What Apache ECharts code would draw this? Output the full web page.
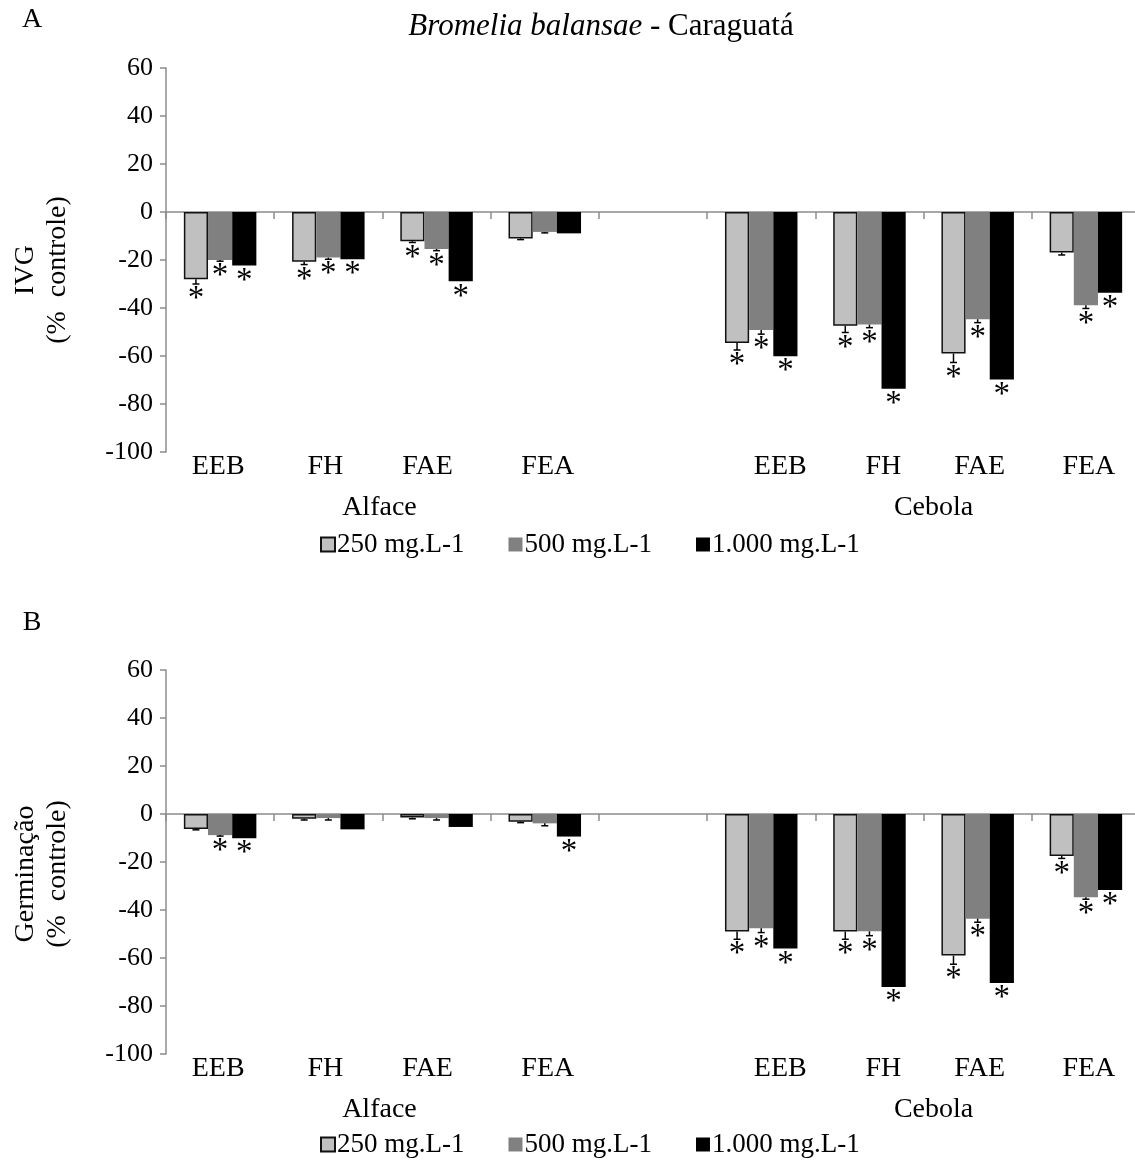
<!DOCTYPE html>
<html><head><meta charset="utf-8">
<script src="https://cdn.jsdelivr.net/npm/echarts@6/dist/echarts.min.js"></script>
<style>html,body{margin:0;padding:0;background:#fff}#c{width:1135px;height:1162px}</style>
</head><body><div id="c"></div>
<script>
// ---------- DATA ----------
const treatments = ['EEB', 'FH', 'FAE', 'FEA'];
const groups = ['Alface', 'Cebola'];
const categories = [...treatments, '', ...treatments];
const doses = ['250 mg.L-1', '500 mg.L-1', '1.000 mg.L-1'];
const yTickValues = [-100, -80, -60, -40, -20, 0, 20, 40, 60];
const titleMain = 'Bromelia balansae';
const titleSub = ' - Caraguatá';
const panelLetters = ['A', 'B'];
const yNames = ['IVG', 'Germinação'];
const yNameSub = '(%  controle)';

// Panel A: IVG (% controle)
const ivg250 = [-28.0, -20.7, -12.2, -11.0, null, -54.6, -47.4, -59.0, -16.9];
const ivg500 = [-20.0, -19.0, -15.4, -8.3, null, -49.2, -46.9, -44.7, -38.9];
const ivg1000 = [-22.3, -19.7, -28.9, -8.9, null, -60.1, -73.6, -69.8, -33.6];
const ivgErr250 = [2.0, 1.2, 0.5, 0.5, null, 2.9, 2.8, 3.7, 1.0];
const ivgErr500 = [0.5, 0.7, 0.7, 0.4, null, 1.7, 1.3, 1.4, 1.3];
const ivgErr1000 = [0, 0, 0, 0, null, 0, 0, 0, 0];
const ivgSig250 = [1, 1, 1, 0, 0, 1, 1, 1, 0];
const ivgSig500 = [1, 1, 1, 0, 0, 1, 1, 1, 1];
const ivgSig1000 = [1, 1, 1, 0, 0, 1, 1, 1, 1];

// Panel B: Germinação (% controle)
const ger250 = [-6.2, -2.0, -1.5, -3.2, null, -49.0, -49.0, -59.0, -17.5];
const ger500 = [-8.8, -1.7, -1.7, -3.9, null, -47.6, -48.9, -43.6, -34.7];
const ger1000 = [-10.1, -6.4, -5.4, -9.4, null, -56.0, -72.1, -70.4, -31.7];
const gerErr250 = [0.4, 0.5, 0.5, 0.4, null, 3.2, 3.2, 3.6, 1.0];
const gerErr500 = [0.4, 0.8, 0.8, 1.0, null, 1.8, 1.8, 1.5, 0.8];
const gerErr1000 = [0, 0, 0, 0, null, 0, 0, 0, 0];
const gerSig250 = [0, 0, 0, 0, 0, 1, 1, 1, 1];
const gerSig500 = [1, 0, 0, 0, 0, 1, 1, 1, 1];
const gerSig1000 = [1, 0, 0, 1, 0, 1, 1, 1, 1];

// ---------- STYLE / LAYOUT ----------
const FONT = 'Liberation Serif';
const AXIS_COLOR = '#8c8c8c';
const CAT_GAP = 0.33;
const labelShift = [-2, -3, -9, 3, 0, 19, 14, 2, 3]; // horizontal nudges of category labels (px)
const doseStyles = [
  { color: '#c0c0c0', borderColor: '#111', borderWidth: 1.5 },
  { color: '#808080', borderColor: '#808080', borderWidth: 0 },
  { color: '#000000', borderColor: '#000', borderWidth: 0 }
];
const panels = [
  { top: 68, vals: [ivg250, ivg500, ivg1000], errs: [ivgErr250, ivgErr500, ivgErr1000], sigs: [ivgSig250, ivgSig500, ivgSig1000], legendTop: 531, letterY: 20, nameY: 270 },
  { top: 670, vals: [ger250, ger500, ger1000], errs: [gerErr250, gerErr500, gerErr1000], sigs: [gerSig250, gerSig500, gerSig1000], legendTop: 1131, letterY: 623, nameY: 874 }
];
const PLOT_H = 384;

const chart = echarts.init(document.getElementById('c'), null, { renderer: 'canvas' });

const grid = [], xAxis = [], yAxis = [], series = [], legend = [];

function errRender(k) {
  return function (params, api) {
    const idx = api.value(0);
    const v = api.value(1);
    if (v == null || isNaN(v)) return;
    let err = api.value(2); if (isNaN(err)) err = 0;
    const sig = api.value(3);
    const band = api.size([1, 0])[0];
    const w = band * (1 - CAT_GAP) / 3;
    const p0 = api.coord([idx, v]);
    const p1 = api.coord([idx, v - err]);
    const x = p0[0] + k * w;
    const children = [];
    if (err > 0) {
      children.push({ type: 'line', shape: { x1: x, y1: p0[1], x2: x, y2: p1[1] }, style: { stroke: '#000', lineWidth: 1.5 } });
      children.push({ type: 'line', shape: { x1: x - 3.5, y1: p1[1], x2: x + 3.5, y2: p1[1] }, style: { stroke: '#000', lineWidth: 1.5 } });
    }
    if (sig) {
      children.push({ type: 'text', style: { text: '*', x: x, y: p1[1] - 1, fill: '#000', fontSize: 33, fontFamily: FONT, align: 'center', verticalAlign: 'top' } });
    }
    return { type: 'group', children: children };
  };
}

const labelData = categories.map(function (c, i) {
  const s = labelShift[i];
  return { value: c, textStyle: { padding: s >= 0 ? [0, 0, 0, 2 * s] : [0, -2 * s, 0, 0] } };
});

panels.forEach(function (p, pi) {
  grid.push({ left: 166, right: -5, top: p.top, height: PLOT_H, outerBoundsMode: 'none', containLabel: false });
  xAxis.push({
    type: 'category', gridIndex: pi, data: categories, position: 'bottom',
    axisLine: { show: true, onZero: true, lineStyle: { color: AXIS_COLOR, width: 1.5 } },
    axisTick: { show: true, length: 7, inside: false, alignWithLabel: false, lineStyle: { color: AXIS_COLOR, width: 1.5 } },
    axisLabel: { show: false }, splitLine: { show: false }
  });
  xAxis.push({
    type: 'category', gridIndex: pi, data: labelData, position: 'bottom',
    axisLine: { show: false, onZero: false }, axisTick: { show: false }, splitLine: { show: false },
    axisLabel: { show: true, interval: 0, margin: 1, color: '#000', fontFamily: FONT, fontSize: 28 }
  });
  yAxis.push({
    type: 'value', gridIndex: pi, min: yTickValues[0], max: yTickValues[yTickValues.length - 1], interval: 20,
    axisLine: { show: true, lineStyle: { color: AXIS_COLOR, width: 1.5 } },
    axisTick: { show: true, length: 6, lineStyle: { color: AXIS_COLOR, width: 1.5 } },
    axisLabel: { color: '#000', fontFamily: FONT, fontSize: 26, margin: 13 },
    splitLine: { show: false }
  });
  doses.forEach(function (d, di) {
    series.push({
      type: 'bar', name: d, xAxisIndex: pi * 2, yAxisIndex: pi,
      data: p.vals[di], barGap: '0%', barCategoryGap: (CAT_GAP * 100) + '%',
      itemStyle: doseStyles[di], emphasis: { disabled: true }, animation: false, z: 2
    });
  });
  doses.forEach(function (d, di) {
    series.push({
      type: 'custom', name: 'err' + pi + '_' + di, xAxisIndex: pi * 2, yAxisIndex: pi,
      data: categories.map(function (c, i) { return [i, p.vals[di][i], p.errs[di][i], p.sigs[di][i]]; }),
      encode: { x: 0, y: 1 }, renderItem: errRender(di - 1), z: 5, animation: false, silent: true, clip: false
    });
  });
  legend.push({
    data: doses, top: p.legendTop, left: 320, orient: 'horizontal', icon: 'rect',
    itemWidth: 14, itemHeight: 14, itemGap: 44, padding: 0, selectedMode: false,
    textStyle: { color: '#000', fontFamily: FONT, fontSize: 27, padding: [0, 0, 0, -3] }
  });
});

chart.setOption({
  backgroundColor: '#fff',
  animation: false,
  textStyle: { fontFamily: FONT },
  grid: grid, xAxis: xAxis, yAxis: yAxis, series: series, legend: legend
});

const graphic = [];
panels.forEach(function (p, pi) {
  const ai = pi * 2 + 1;
  const a1 = chart.convertToPixel({ xAxisIndex: ai }, 1);
  const a2 = chart.convertToPixel({ xAxisIndex: ai }, 2);
  const c1 = chart.convertToPixel({ xAxisIndex: ai }, 6);
  const c2 = chart.convertToPixel({ xAxisIndex: ai }, 7);
  const gy = p.top + PLOT_H + 56;
  graphic.push({ type: 'text', x: (a1 + a2) / 2 - 3, y: gy, style: { text: groups[0], fill: '#000', font: '28px "' + FONT + '"', align: 'center', verticalAlign: 'middle' } });
  graphic.push({ type: 'text', x: (c1 + c2) / 2 + 10, y: gy, style: { text: groups[1], fill: '#000', font: '28px "' + FONT + '"', align: 'center', verticalAlign: 'middle' } });
  graphic.push({ type: 'text', x: 32, y: p.letterY, style: { text: panelLetters[pi], fill: '#000', font: '28px "' + FONT + '"', align: 'center', verticalAlign: 'middle' } });
  graphic.push({ type: 'text', x: 42, y: p.nameY, rotation: Math.PI / 2, style: { text: yNames[pi] + '\n' + yNameSub, fill: '#000', font: '28px "' + FONT + '"', lineHeight: 32, align: 'center', verticalAlign: 'middle' } });
});
graphic.push({
  type: 'text', x: 601, y: 27,
  style: {
    text: '{i|' + titleMain + '}{n|' + titleSub + '}', align: 'center', verticalAlign: 'middle',
    rich: { i: { fontFamily: FONT, fontSize: 31, fontStyle: 'italic', color: '#000' }, n: { fontFamily: FONT, fontSize: 31, color: '#000' } }
  }
});
chart.setOption({ graphic: graphic });
</script>
</body></html>
